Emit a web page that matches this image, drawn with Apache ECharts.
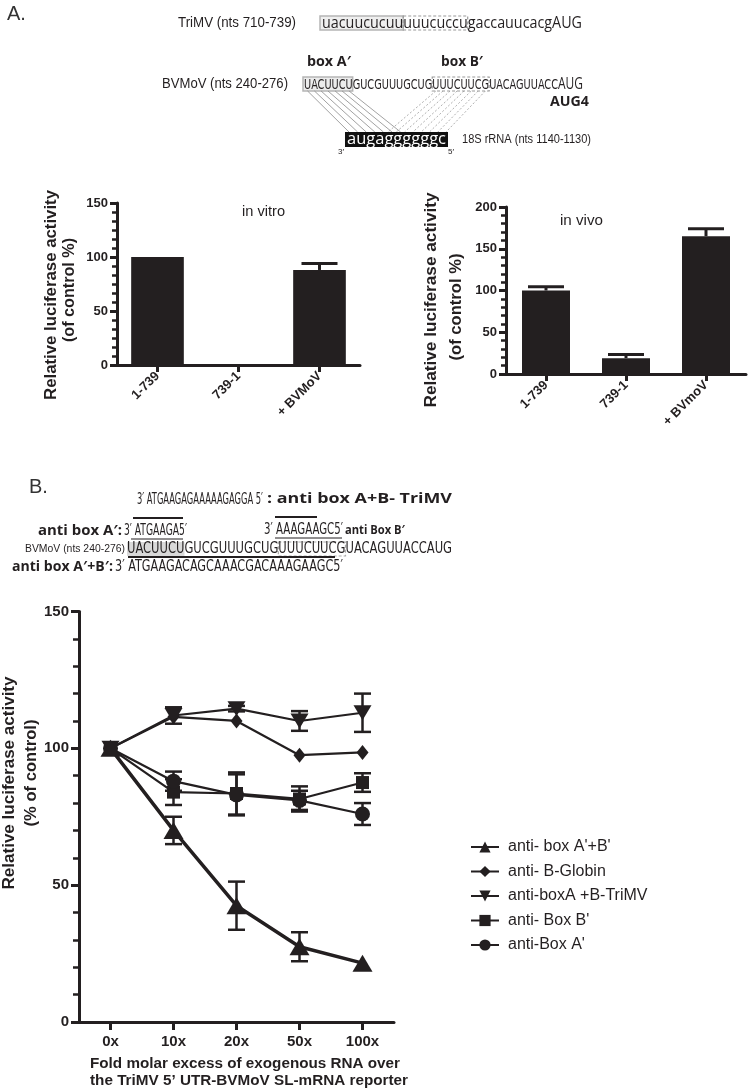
<!DOCTYPE html>
<html>
<head>
<meta charset="utf-8">
<script src="https://cdn.jsdelivr.net/npm/echarts@6/dist/echarts.min.js"></script>
<style>html,body{margin:0;padding:0;background:#fff}#c{width:750px;height:1092px}</style>
</head>
<body>
<div id="c"></div>
<script>
// ---------- data ----------
const vitroCats = ['1-739', '739-1', '+ BVMoV'];
const vitroVals = [100, 0, 88];
const vitroErr = [0, 0, 6];

const vivoCats = ['1-739', '739-1', '+ BVmoV'];
const vivoVals = [100, 19, 165];
const vivoErr = [4.5, 4.5, 9];

const doseCats = ['0x', '10x', '20x', '50x', '100x'];
const boxABVals = [100, 70, 42.5, 27.5, 21.5];
const boxABErr = [0, 5, 8.8, 5.3, 0];
const globinVals = [100, 111.5, 110, 97.5, 98.5];
const globinErr = [0, 0, 0, 0, 0];
const trimvVals = [100, 112, 114.5, 110, 113];
const trimvErr = [0, 3, 1, 3.6, 7];
const boxBVals = [100, 84, 83.5, 81.5, 87.5];
const boxBErr = [0, 4.7, 7.7, 4.6, 3.4];
const boxAVals = [100, 88, 83, 81, 76];
const boxAErr = [0, 3.5, 7.5, 3.5, 4];

const seriesNames = ["anti- box A'+B'", 'anti- B-Globin', 'anti-boxA +B-TriMV', "anti- Box B'", "anti-Box A'"];

// ---------- helpers ----------
const INK = '#231f20';
const SANS = '"Liberation Sans", Arial, Helvetica, sans-serif';
const NARROW = '"Liberation Sans Narrow", "DejaVu Sans Condensed", "Liberation Sans", sans-serif';
const OPEN = '"Open Sans", "Liberation Sans", sans-serif';
const mctx = document.createElement('canvas').getContext('2d');
function measure(str, font) { mctx.font = font; return mctx.measureText(str).width; }
function fitText(str, x, y, size, family, weight, targetW, extra) {
  const font = (weight || 'normal') + ' ' + size + 'px ' + family;
  const sx = targetW ? targetW / measure(str, font) : 1;
  const el = { type: 'text', x: x, y: y, scaleX: sx, z: 10,
    style: { text: str, font: font, fill: INK, align: 'left', verticalAlign: 'middle' } };
  return Object.assign(el, extra || {});
}
function charX(str, idx, size, family, weight, x0, targetW) {
  const font = (weight || 'normal') + ' ' + size + 'px ' + family;
  const sx = targetW / measure(str, font);
  return x0 + sx * measure(str.slice(0, idx), font);
}
function rotText(str, cx, cy, size, targetLen) {
  const font = 'bold ' + size + 'px ' + SANS;
  const sx = targetLen / measure(str, font);
  return { type: 'text', x: cx, y: cy, rotation: Math.PI / 2, scaleX: sx, z: 10,
    style: { text: str, font: font, fill: INK, align: 'center', verticalAlign: 'middle' } };
}
function line(x1, y1, x2, y2, w, color, dash) {
  return { type: 'line', z: 5, shape: { x1, y1, x2, y2 },
    style: { stroke: color || INK, lineWidth: w || 1, lineDash: dash || null } };
}
function rect(x, y, w, h, style, z) {
  return { type: 'rect', z: z || 4, shape: { x, y, width: w, height: h }, style: style };
}

// ---------- graphic (sequence diagrams, titles) ----------
const G = [];
// Panel A header
G.push({ type: 'text', x: 7, y: 14, z: 10, style: { text: 'A.', font: '20px ' + SANS, fill: '#333', align: 'left', verticalAlign: 'middle' } });
G.push(fitText('TriMV (nts 710-739)', 178, 23, 14, SANS, 'normal', 118));
const triSeq = 'uacuucucuuuuucuccugaccauucacgAUG';
const triX = 322, triW = 260;
const tA0 = charX(triSeq, 0, 16, OPEN, 'normal', triX, triW), tA1 = charX(triSeq, 10, 16, OPEN, 'normal', triX, triW);
const tB1 = charX(triSeq, 18, 16, OPEN, 'normal', triX, triW);
G.push(rect(tA0 - 2, 16, tA1 - tA0 + 2, 14, { fill: '#efefef', stroke: '#b5b5b5', lineWidth: 1.5 }, 3));
G.push(rect(tA1, 16, tB1 - tA1, 14, { fill: 'none', stroke: '#9a9a9a', lineWidth: 1.2, lineDash: [3, 2] }, 3));
G.push(fitText(triSeq, triX, 23, 16, OPEN, 'normal', triW));

G.push(fitText("box A\u2032", 307, 62, 14, OPEN, 'bold', 44));
G.push(fitText("box B\u2032", 441, 62, 14, OPEN, 'bold', 42));
G.push(fitText('BVMoV (nts 240-276)', 162, 84, 14, SANS, 'normal', 126));
const bvSeq = 'UACUUCUGUCGUUUGCUGUUUCUUCGUACAGUUACC';
const bvX = 304, bvW = 254;
const cx = i => charX(bvSeq, i, 14, NARROW, 'normal', bvX, bvW);
G.push(rect(cx(0) - 1, 77, cx(7) - cx(0) + 1, 14, { fill: '#ececec', stroke: '#b5b5b5', lineWidth: 1.5 }, 3));
G.push(rect(cx(18), 77, cx(26) - cx(18), 14, { fill: 'none', stroke: '#9a9a9a', lineWidth: 1.2, lineDash: [3, 2] }, 3));
G.push(fitText(bvSeq, bvX, 85, 14, NARROW, 'normal', bvW));
G.push(fitText('AUG', 558, 84, 16, OPEN, 'normal', 25));
G.push(fitText('AUG4', 550, 102, 15, OPEN, 'bold', 39));
// pairing lines
for (let i = 0; i < 7; i++) {
  const xt = (cx(i) + cx(i + 1)) / 2;
  G.push(line(xt, 91, 349 + i * 8.6, 132, 0.8, '#8a8a8a'));
}
for (let i = 0; i < 8; i++) {
  const xt = (cx(18 + i) + cx(19 + i)) / 2;
  G.push(line(xt, 91, 388 + i * 8.3, 132, 0.8, '#9a9a9a', [2, 2]));
}
G.push(rect(345, 132, 103, 15, { fill: '#111' }, 6));
G.push(fitText('augaggggggc', 347, 139, 16, OPEN, 'normal', 99, { z: 11, style: { text: 'augaggggggc', font: '16px ' + OPEN, fill: '#fff', align: 'left', verticalAlign: 'middle' } }));
G.push(fitText('3\u2032', 338, 152, 8, SANS, 'normal', 0));
G.push(fitText('5\u2032', 448, 152, 8, SANS, 'normal', 0));
G.push(fitText('18S rRNA (nts 1140-1130)', 462, 140, 12, SANS, 'normal', 129));

// bar chart titles
G.push(rotText('Relative luciferase activity', 52, 295, 16, 210));
G.push(rotText('(of control %)', 70, 290, 16, 104));
G.push(fitText('in vitro', 242, 212, 15, SANS, 'normal', 43));
G.push(rotText('Relative luciferase activity', 432, 300, 16, 215));
G.push(rotText('(of control %)', 457, 307, 16, 107));
G.push(fitText('in vivo', 560, 221, 15, SANS, 'normal', 43));

// Panel B header
G.push({ type: 'text', x: 29, y: 487, z: 10, style: { text: 'B.', font: '20px ' + SANS, fill: '#333', align: 'left', verticalAlign: 'middle' } });
G.push(fitText("3\u2032 ATGAAGAGAAAAAGAGGA 5\u2032", 137, 500, 15, NARROW, 'normal', 126));
G.push(fitText(": anti box A+B- TriMV", 267, 499, 15, OPEN, 'bold', 185));
G.push(fitText("anti box A\u2032:", 38, 531, 15, OPEN, 'bold', 84));
G.push(fitText("3\u2032 ATGAAGA5\u2032", 124, 531, 15, NARROW, 'normal', 63));
G.push(line(133, 518, 183, 518, 2));
G.push(line(131, 539, 183, 539, 1));
G.push(fitText("3\u2032 AAAGAAGC5\u2032", 264, 530, 15, NARROW, 'normal', 79));
G.push(line(275, 517, 317, 517, 2));
G.push(line(275, 538, 342, 538, 1));
G.push(fitText("anti Box B\u2032", 345, 530, 13, OPEN, 'bold', 60));
G.push(fitText('BVMoV (nts 240-276)', 25, 549, 11, SANS, 'normal', 100));
const bSeq = 'UACUUCUGUCGUUUGCUGUUUCUUCGUACAGUUACCAUG';
const bX = 127, bW = 325;
const bx = i => charX(bSeq, i, 15, NARROW, 'normal', bX, bW);
G.push(rect(bx(0), 542, bx(7) - bx(0), 14, { fill: '#d9d9d9' }, 3));
G.push(rect(bx(18), 542, bx(26) - bx(18), 14, { fill: 'none', stroke: '#aaa', lineWidth: 1.2, lineDash: [3, 2] }, 3));
G.push(fitText(bSeq, bX, 549, 15, NARROW, 'normal', bW));
G.push(line(128, 557, 335, 557, 2));
G.push(fitText("anti box A\u2032+B\u2032:", 12, 567, 15, OPEN, 'bold', 101));
G.push(fitText("3\u2032 ATGAAGACAGCAAACGACAAAGAAGC5\u2032", 115, 567, 15, NARROW, 'normal', 228));

// line chart titles
G.push(rotText('Relative luciferase activity', 10, 783, 16, 213));
G.push(rotText('(% of control)', 32, 773, 16, 107));
function ctext(str, cxp, cy, size, w) {
  const font = 'bold ' + size + 'px ' + SANS;
  const sx = w / measure(str, font);
  return { type: 'text', x: cxp, y: cy, scaleX: sx, z: 10,
    style: { text: str, font: font, fill: INK, align: 'center', verticalAlign: 'middle' } };
}
G.push(ctext('Fold molar excess of exogenous RNA over', 245, 1064, 14, 310));
G.push(ctext('the TriMV 5\u2019 UTR-BVMoV SL-mRNA reporter', 249, 1081, 14, 318));

// ---------- chart ----------
const chart = echarts.init(document.getElementById('c'), null, { renderer: 'canvas' });

function valueAxis(grid, max, minorSplit, labelSize, margin, tickLen) {
  return {
    type: 'value', gridIndex: grid, min: 0, max: max, interval: 50,
    axisLine: { show: true, lineStyle: { color: INK, width: 3 } },
    axisTick: { show: true, length: tickLen, lineStyle: { color: INK, width: 3 } },
    minorTick: { show: true, splitNumber: minorSplit, length: tickLen - 2, lineStyle: { color: INK, width: 2.5 } },
    splitLine: { show: false }, minorSplitLine: { show: false },
    axisLabel: { color: INK, fontWeight: 'bold', fontSize: labelSize, fontFamily: SANS, margin: margin }
  };
}
function catAxis(grid, data, rotate, labelSize, margin, tickLen) {
  return {
    type: 'category', gridIndex: grid, data: data,
    axisLine: { show: true, lineStyle: { color: INK, width: 3 } },
    axisTick: { show: true, alignWithLabel: true, length: tickLen, lineStyle: { color: INK, width: 3 } },
    axisLabel: { color: INK, fontWeight: 'bold', fontSize: labelSize, fontFamily: SANS, margin: margin, rotate: rotate, interval: 0 },
    splitLine: { show: false }
  };
}
function barErr(capW) {
  return function (params, api) {
    const x = api.value(0), v = api.value(1), t = api.value(2);
    if (!(t > v)) return null;
    const p0 = api.coord([x, v]), p1 = api.coord([x, t]);
    const st = { stroke: INK, lineWidth: 3 };
    return { type: 'group', children: [
      { type: 'line', shape: { x1: p0[0], y1: p0[1], x2: p1[0], y2: p1[1] }, style: st },
      { type: 'line', shape: { x1: p1[0] - capW / 2, y1: p1[1], x2: p1[0] + capW / 2, y2: p1[1] }, style: st }
    ] };
  };
}
function lineErr(params, api) {
  const x = api.value(0), lo = api.value(1), hi = api.value(2);
  if (!(hi > lo)) return null;
  const a = api.coord([x, lo]), b = api.coord([x, hi]);
  const c = 17, st = { stroke: INK, lineWidth: 2.5 };
  return { type: 'group', children: [
    { type: 'line', shape: { x1: a[0], y1: a[1], x2: b[0], y2: b[1] }, style: st },
    { type: 'line', shape: { x1: a[0] - c / 2, y1: a[1], x2: a[0] + c / 2, y2: a[1] }, style: st },
    { type: 'line', shape: { x1: b[0] - c / 2, y1: b[1], x2: b[0] + c / 2, y2: b[1] }, style: st }
  ] };
}
const lineDefs = [
  { vals: boxABVals, err: boxABErr, symbol: 'triangle', size: [20, 17], rot: 0, width: 3.5 },
  { vals: globinVals, err: globinErr, symbol: 'diamond', size: [12, 15], rot: 0, width: 2.2 },
  { vals: trimvVals, err: trimvErr, symbol: 'triangle', size: [18, 15], rot: 180, width: 2.2 },
  { vals: boxBVals, err: boxBErr, symbol: 'rect', size: 13, rot: 0, width: 2.2 },
  { vals: boxAVals, err: boxAErr, symbol: 'circle', size: 15, rot: 0, width: 2.2 }
];
const series = [
  { type: 'bar', xAxisIndex: 0, yAxisIndex: 0, data: vitroVals, barWidth: '65%', itemStyle: { color: INK }, z: 3 },
  { type: 'custom', xAxisIndex: 0, yAxisIndex: 0, data: vitroVals.map((v, i) => [i, v, v + vitroErr[i]]), renderItem: barErr(36), z: 2 },
  { type: 'bar', xAxisIndex: 1, yAxisIndex: 1, data: vivoVals, barWidth: '60%', itemStyle: { color: INK }, z: 3 },
  { type: 'custom', xAxisIndex: 1, yAxisIndex: 1, data: vivoVals.map((v, i) => [i, v, v + vivoErr[i]]), renderItem: barErr(36), z: 2 }
];
lineDefs.forEach((d, k) => {
  series.push({ type: 'custom', xAxisIndex: 2, yAxisIndex: 2, z: 2,
    data: d.vals.map((v, i) => [i, v - d.err[i], v + d.err[i]]), renderItem: lineErr });
});
lineDefs.forEach((d, k) => {
  series.push({ type: 'line', name: seriesNames[k], xAxisIndex: 2, yAxisIndex: 2, data: d.vals,
    symbol: d.symbol, symbolSize: d.size, symbolRotate: d.rot, showSymbol: true,
    lineStyle: { color: INK, width: d.width }, itemStyle: { color: INK, borderWidth: 0 },
    z: k === 0 ? 6 : 4 });
});

chart.setOption({
  animation: false,
  backgroundColor: '#ffffff',
  grid: [
    { left: 117, top: 203, width: 243, height: 162 },
    { left: 506, top: 207, width: 240, height: 167 },
    { left: 79, top: 611.5, width: 315, height: 410.5 }
  ],
  xAxis: [
    catAxis(0, vitroCats, 45, 13, 9, 7),
    catAxis(1, vivoCats, 45, 13, 9, 7),
    Object.assign(catAxis(2, doseCats, 0, 15, 12, 8), { boundaryGap: true })
  ],
  yAxis: [
    valueAxis(0, 150, 6, 13, 9, 7),
    valueAxis(1, 200, 5, 13, 9, 7),
    valueAxis(2, 150, 5, 15, 10, 8)
  ],
  legend: {
    data: seriesNames, orient: 'vertical', left: 470, top: 839, padding: 0,
    itemWidth: 28, itemHeight: 14, itemGap: 8.5,
    textStyle: { color: INK, fontSize: 16, fontFamily: SANS, padding: [0, 0, 0, 4] }
  },
  series: series,
  graphic: { elements: G }
});
</script>
</body>
</html>
